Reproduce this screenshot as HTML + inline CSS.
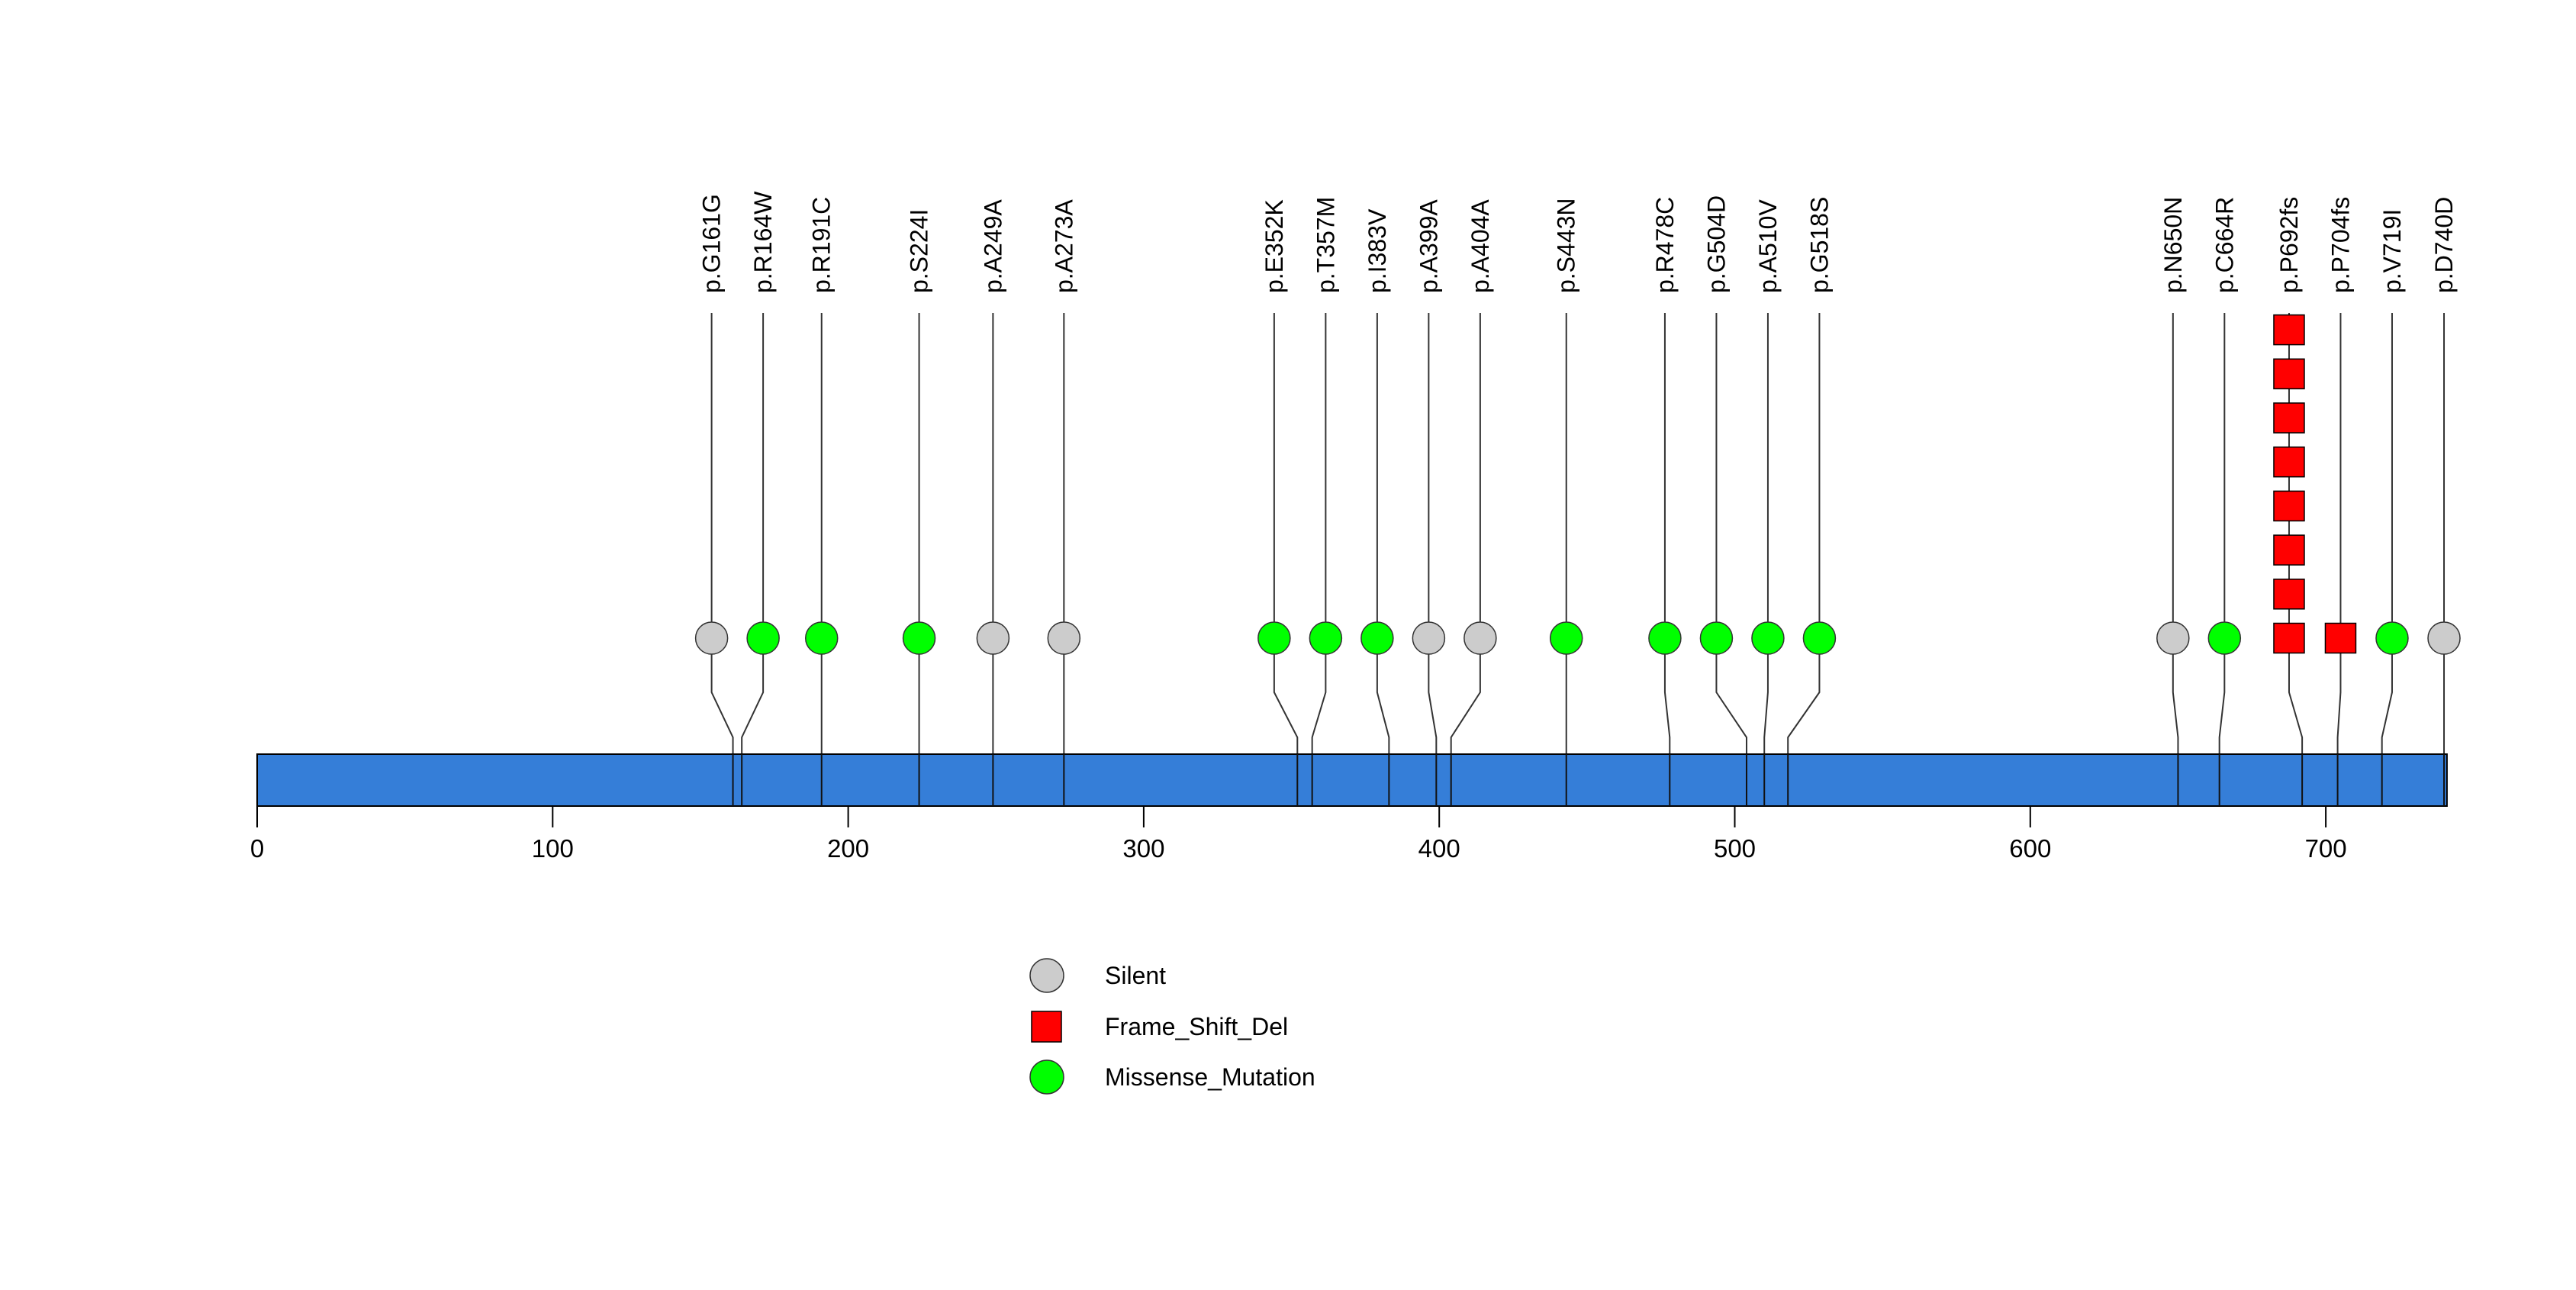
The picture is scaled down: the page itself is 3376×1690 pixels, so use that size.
<!DOCTYPE html>
<html><head><meta charset="utf-8"><style>
html,body{margin:0;padding:0;background:#fff}
svg{display:block}
text{font-family:"Liberation Sans",sans-serif;fill:#000}
</style></head><body>
<svg id="chart" width="3376" height="1690" viewBox="0 0 3376 1690" xmlns="http://www.w3.org/2000/svg">
<g id="stems"></g>
<g id="protein"></g>
<g id="marks"></g>
<g id="labels"></g>
<g id="axis"></g>
<g id="legend"></g>
</svg>
<script>
const labels = ["p.G161G","p.R164W","p.R191C","p.S224I","p.A249A","p.A273A","p.E352K","p.T357M","p.I383V","p.A399A","p.A404A","p.S443N","p.R478C","p.G504D","p.A510V","p.G518S","p.N650N","p.C664R","p.P692fs","p.P704fs","p.V719I","p.D740D"];
const positions = [161,164,191,224,249,273,352,357,383,399,404,443,478,504,510,518,650,664,692,704,719,740];
const types = ["Silent","Missense_Mutation","Missense_Mutation","Missense_Mutation","Silent","Silent","Missense_Mutation","Missense_Mutation","Missense_Mutation","Silent","Silent","Missense_Mutation","Missense_Mutation","Missense_Mutation","Missense_Mutation","Missense_Mutation","Silent","Missense_Mutation","Frame_Shift_Del","Frame_Shift_Del","Missense_Mutation","Silent"];
const counts = [1,1,1,1,1,1,1,1,1,1,1,1,1,1,1,1,1,1,8,1,1,1];
const proteinLength = 741;
const tickValues = [0,100,200,300,400,500,600,700];
const legendLabels = ["Silent","Frame_Shift_Del","Missense_Mutation"];

const NS = "http://www.w3.org/2000/svg";
const X0 = 337, PX = 3.873;
const xs = v => X0 + v * PX;
const BAR_TOP = 988, BAR_BOT = 1056, MARK_Y = 836, STACK = 57.7, LINE_TOP = 410, BEND1 = 907, BEND2 = 966;
const colors = {"Silent":"#cccccc","Missense_Mutation":"#00ff00","Frame_Shift_Del":"#ff0000"};
function el(tag, attrs, parent){const e=document.createElementNS(NS,tag);for(const k in attrs)e.setAttribute(k,attrs[k]);parent.appendChild(e);return e;}

// repel layout of display positions
const MIN = 67.5;
const actual = positions.map(xs);
let clusters = actual.map((x,i)=>({idx:[i],mean:x}));
function placed(c){const n=c.idx.length;return c.idx.map((_,k)=>c.mean+(k-(n-1)/2)*MIN);}
let changed=true;
while(changed){changed=false;
  for(let i=0;i<clusters.length-1;i++){
    const a=placed(clusters[i]),b=placed(clusters[i+1]);
    if(b[0]-a[a.length-1]<MIN-0.01){
      const idx=clusters[i].idx.concat(clusters[i+1].idx);
      const mean=idx.reduce((s,j)=>s+actual[j],0)/idx.length;
      clusters.splice(i,2,{idx,mean});changed=true;break;}
  }}
const disp=[];clusters.forEach(c=>{const p=placed(c);c.idx.forEach((j,k)=>disp[j]=p[k]);});

const stems=document.getElementById('stems'),marks=document.getElementById('marks'),lab=document.getElementById('labels');
positions.forEach((p,i)=>{
  const dx=disp[i], ax=actual[i];
  const s=el('polyline',{points:`${dx},${LINE_TOP} ${dx},${BEND1} ${ax},${BEND2} ${ax},${BAR_BOT}`,fill:'none',stroke:'#333',"stroke-width":2},stems);
  
  
  for(let k=0;k<counts[i];k++){
    const cy=MARK_Y-k*STACK;let m;
    if(types[i]==="Frame_Shift_Del"){
      m=el('rect',{x:dx-20,y:cy-19.5,width:40,height:39,fill:colors[types[i]],stroke:'#000',"stroke-width":1.5},marks);
    } else {
      m=el('ellipse',{cx:dx,cy:cy,rx:21,ry:21,fill:colors[types[i]],stroke:'#333',"stroke-width":1.5},marks);
    }
    
    
  }
  const t=el('text',{x:0,y:0,transform:`translate(${dx+11},384) rotate(-90)`,"font-size":32},lab);
  t.textContent=labels[i];
  
  
});
// protein bar drawn under marks but over stems: re-append stems lines through the bar
const prot=document.getElementById('protein');
const bar=el('rect',{x:xs(0),y:BAR_TOP,width:xs(proteinLength)-xs(0),height:BAR_BOT-BAR_TOP,fill:'#357ed8',stroke:'#000',"stroke-width":2},prot);


positions.forEach((p,i)=>{
  const l=el('line',{x1:actual[i],y1:BAR_TOP,x2:actual[i],y2:BAR_BOT,stroke:'#111',"stroke-width":2},prot);
  
  
});
const axis=document.getElementById('axis');
tickValues.forEach(v=>{
  const l=el('line',{x1:xs(v),y1:BAR_BOT,x2:xs(v),y2:1084,stroke:'#000',"stroke-width":2},axis);
  
  
  const t=el('text',{x:xs(v),y:1123,"text-anchor":"middle","font-size":33},axis);
  t.textContent=v;
  
  
});
const leg=document.getElementById('legend');
const legY=[1278,1345,1411];
legendLabels.forEach((name,i)=>{
  let m;
  if(name==="Frame_Shift_Del") m=el('rect',{x:1352,y:legY[i]-20,width:39,height:40,fill:colors[name],stroke:'#000',"stroke-width":1.5},leg);
  else m=el('circle',{cx:1372,cy:legY[i],r:22,fill:colors[name],stroke:'#333',"stroke-width":1.5},leg);
  
  
  const t=el('text',{x:1448,y:legY[i]+11,"font-size":32},leg);
  t.textContent=name;
  
  
});
</script>
</body></html>
